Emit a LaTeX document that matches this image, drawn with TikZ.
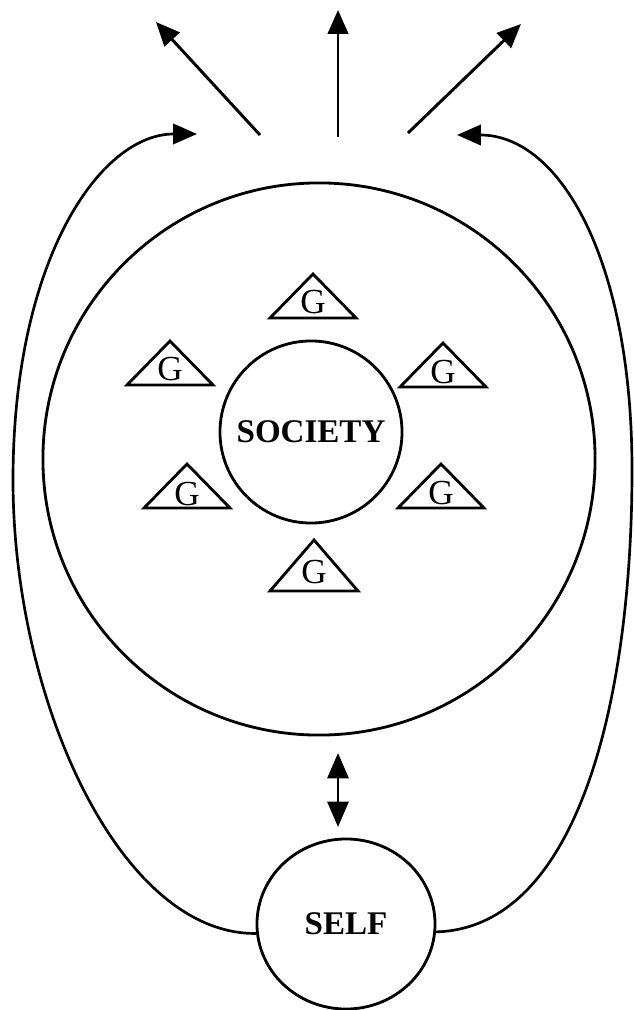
\documentclass[tikz,border=0pt]{standalone}
\usepackage{fontspec}
\setmainfont{Liberation Serif}
\usetikzlibrary{arrows.meta,shapes.geometric}
\begin{document}
\begin{tikzpicture}[x=0.025cm,y=-0.025cm,
  line/.style={line width=2pt},
  arr/.style={line width=2.1pt,-{Triangle[length=17pt,width=14.5pt]}},
  lbl/.style={font=\fontsize{23.5}{23.5}\selectfont\bfseries},
  gtxt/.style={font=\fontsize{25}{25}\selectfont, inner sep=0pt},
]
\useasboundingbox (0,0) rectangle (633,1010);
% circles
\node[circle, draw, line, minimum size=13.8cm, inner sep=0pt] (world) at (319,459) {};
\node[circle, draw, line, minimum size=4.55cm, inner sep=0pt, lbl] (society) at (311,432) {SOCIETY};
\node[ellipse, draw, line, minimum width=4.45cm, minimum height=4.25cm, inner sep=0pt, lbl] (self) at (346,924) {SELF};
% group triangles
\foreach \n/\x/\y/\w/\b/\h in {g1/313/302/43/16/44, g2/170/369/43/16/44, g3/443/372/43/15/44,
  g4/187/494/43/14/44, g5/441/493/43/15/44, g6/314/572/44/19/51}{
  \node[gtxt] (\n) at (\x,\y) {G};
  \draw[line, line join=miter] (\n.center) ++(-\w,\b) -- ++(2*\w,0) -- ++(-\w,-\h) -- cycle;
}
% outward arrows
\coordinate (a1s) at (260,135); \coordinate (a1e) at (156,22);
\coordinate (a2s) at (338,137); \coordinate (a2e) at (338,10);
\coordinate (a3s) at (408,133); \coordinate (a3e) at (521,24);
\draw[arr] (a1s) -- (a1e);
\draw[arr] (a2s) -- (a2e);
\draw[arr] (a3s) -- (a3e);
% feedback loops
\coordinate (lt) at (197,134);
\coordinate (rt) at (457,135);
\draw[arr, line width=1.9pt] (self.186) .. controls (120,935) and (13,700) .. (13,480)
   .. controls (13,260) and (100,134) .. (lt);
\draw[arr, line width=1.9pt] (self.-5) .. controls (578,928) and (632,700) .. (632,470)
   .. controls (632,260) and (560,135) .. (rt);
% double arrow between society and self
\coordinate (d1) at (338,753);
\coordinate (d2) at (338,827);
\draw[line width=1.9pt, {Triangle[length=18pt,width=15pt]}-{Triangle[length=18pt,width=15pt]}] (d1) -- (d2);
\end{tikzpicture}
\end{document}
